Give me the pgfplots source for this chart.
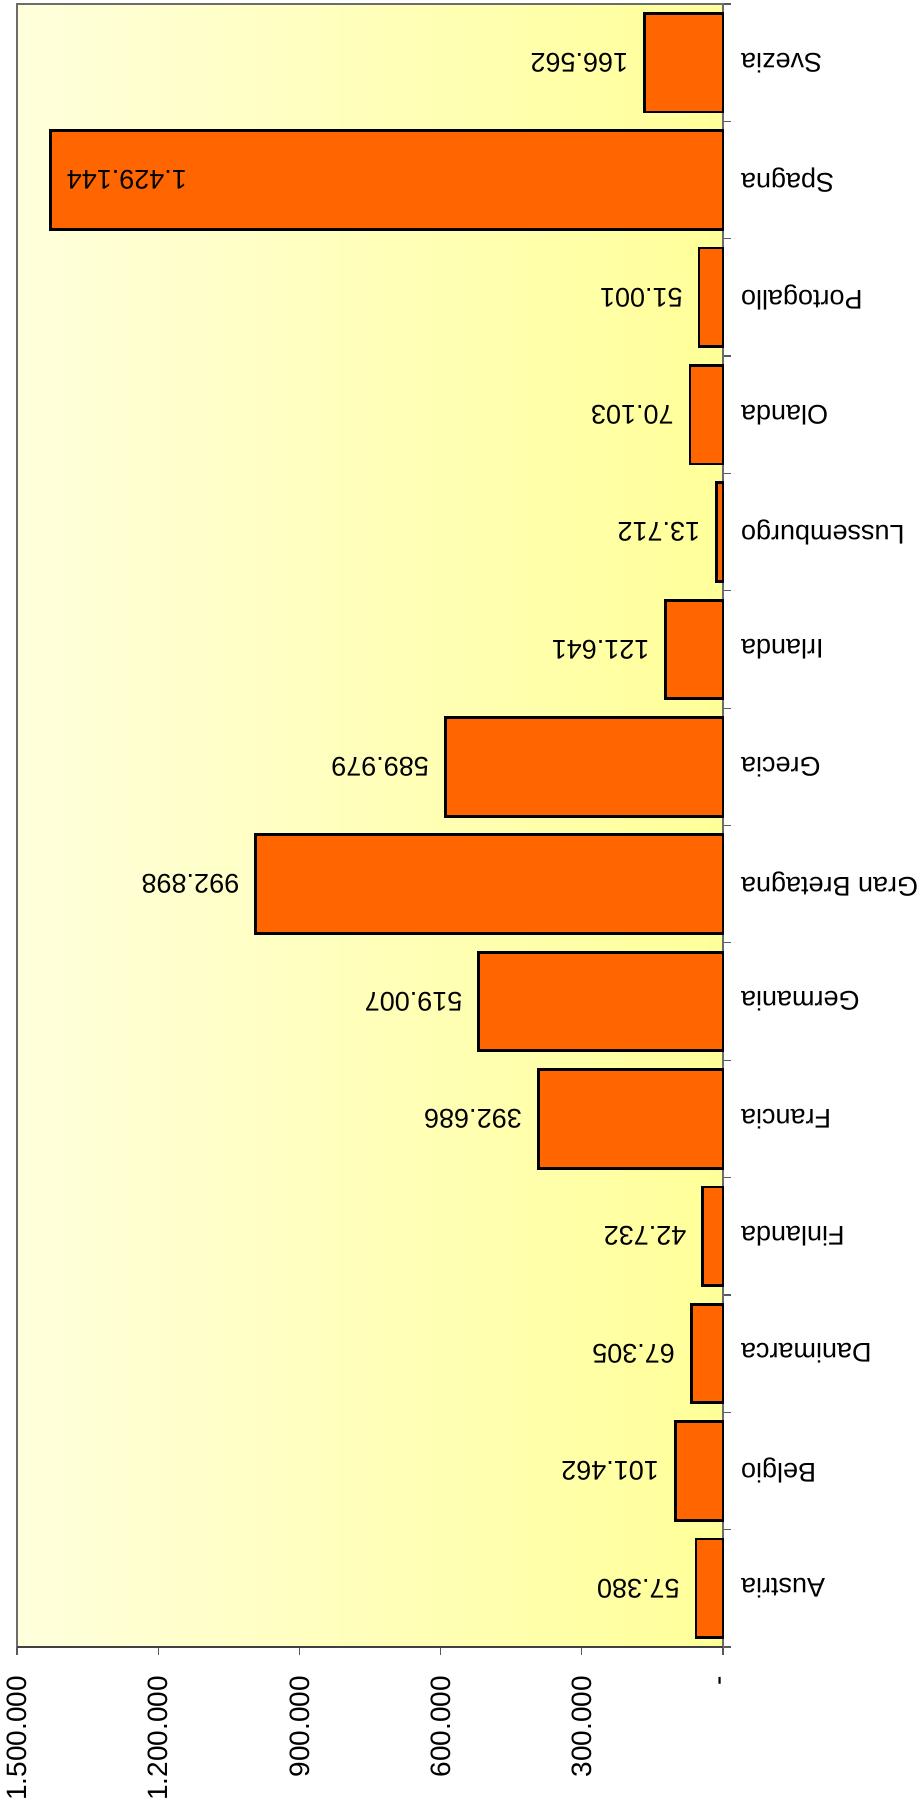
\documentclass[border=0pt]{standalone}
\usepackage{fontspec}
\setmainfont{Liberation Sans}
\usepackage{pgfplots}
\pgfplotsset{compat=1.18}
\definecolor{barorange}{HTML}{FF6600}
\definecolor{bgleft}{HTML}{FFFFDC}
\definecolor{bgright}{HTML}{FFFF99}
\begin{document}
\begin{tikzpicture}
\begin{axis}[
  scale only axis, width=353pt, height=821.5pt,
  x dir=reverse, xmin=0, xmax=1500000,
  ymin=-0.5, ymax=13.5,
  xtick={0,300000,600000,900000,1200000,1500000},
  xticklabels={-,300.000,600.000,900.000,1.200.000,1.500.000},
  ytick={0,...,13},
  yticklabels={Austria,Belgio,Danimarca,Finlanda,Francia,Germania,Gran Bretagna,Grecia,Irlanda,Lussemburgo,Olanda,Portogallo,Spagna,Svezia},
  minor ytick={-0.5,0.5,...,13.5},
  xtick pos=left, ytick pos=right,
  tick align=outside,
  major tick length=4pt, minor tick length=4pt,
  major y tick style={draw=none},
  minor y tick style={draw=gray!70!black, line width=0.6pt},
  major x tick style={draw=gray!70!black, line width=0.6pt},
  xticklabel shift=7pt,
  yticklabel shift=1.5pt,
  xticklabel style={rotate=90, anchor=east, font=\fontsize{14}{16}\selectfont},
  yticklabel style={rotate=180, anchor=east, font=\fontsize{13.5}{16}\selectfont},
  axis line style={draw=gray!85!black, line width=0.8pt},
  axis background/.style={left color=bgleft, right color=bgright},
  clip=false,
]
\addplot[xbar, bar width=0.84, bar shift=0pt, fill=barorange, draw=black, line width=1.4pt]
  coordinates {(57380,0) (101462,1) (67305,2) (42732,3) (392686,4) (519007,5) (992898,6) (589979,7) (121641,8) (13712,9) (70103,10) (51001,11) (1429144,12) (166562,13)};
\addplot[xbar, bar width=0.84, bar shift=0pt, draw=none, fill=none, point meta=explicit symbolic,
  nodes near coords, nodes near coords style={rotate=180, anchor=west, inner xsep=8pt, text=black, font=\fontsize{13.5}{16}\selectfont}]
  coordinates {(57380,0) [57.380] (101462,1) [101.462] (67305,2) [67.305] (42732,3) [42.732] (392686,4) [392.686] (519007,5) [519.007] (992898,6) [992.898] (589979,7) [589.979] (121641,8) [121.641] (13712,9) [13.712] (70103,10) [70.103] (51001,11) [51.001] (166562,13) [166.562]};
\addplot[xbar, bar width=0.84, bar shift=0pt, draw=none, fill=none, point meta=explicit symbolic,
  nodes near coords, nodes near coords style={rotate=180, anchor=east, inner xsep=8pt, text=black, font=\fontsize{13.5}{16}\selectfont}]
  coordinates {(1429144,12) [1.429.144]};
\draw[black!75, line width=1pt] (rel axis cs:0,0) -- (rel axis cs:1,0);
\coordinate (bl) at (rel axis cs:0,0);
\coordinate (tr) at (rel axis cs:1,1);
\end{axis}
\pgfresetboundingbox
\path[use as bounding box] ([shift={(-8.5pt,-78pt)}]bl) rectangle ([shift={(100pt,2pt)}]tr);
\end{tikzpicture}
\end{document}
